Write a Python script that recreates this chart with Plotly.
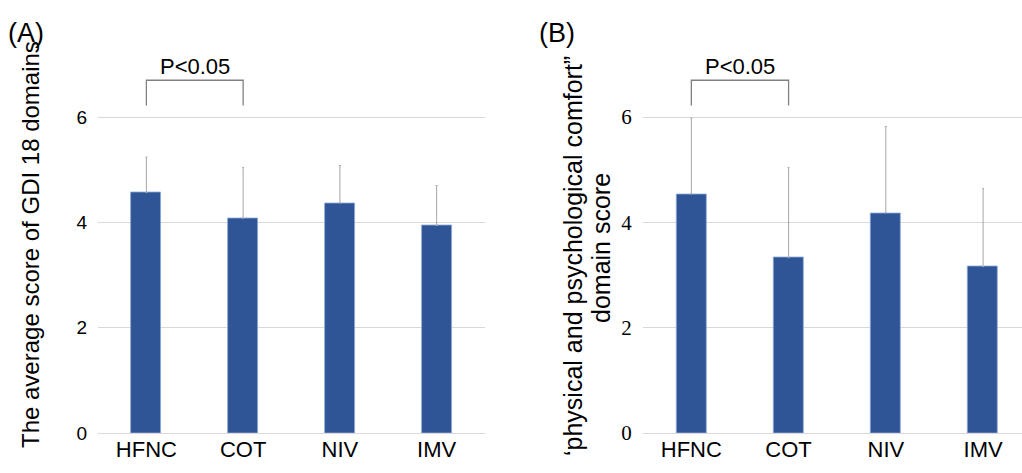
import plotly.graph_objects as go

categories = ["HFNC", "COT", "NIV", "IMV"]
gdi_mean = [4.57, 4.08, 4.37, 3.94]
gdi_sd = [0.67, 0.96, 0.71, 0.76]
comfort_mean = [4.54, 3.33, 4.18, 3.16]
comfort_sd = [1.44, 1.71, 1.64, 1.48]
y_ticks = [0, 2, 4, 6]

BAR = "#2F5597"
BAR_EDGE = "#8EA9DB"
ERR = "#A6A6A6"
GRID = "#D9D9D9"
BRACKET = "#808080"

W, H = 1022, 461  # effective rendered page area


def fx(px):
    return px / W


def fy(py):
    return 1 - py / H


fig = go.Figure()
for means, sds, xa, ya in [(gdi_mean, gdi_sd, "x", "y"), (comfort_mean, comfort_sd, "x2", "y2")]:
    fig.add_trace(go.Bar(
        x=categories, y=means, xaxis=xa, yaxis=ya, width=0.31,
        marker=dict(color=BAR, line=dict(color=BAR_EDGE, width=0.8)),
        error_y=dict(type="data", array=sds, arrayminus=[0] * len(sds), symmetric=False,
                     color=ERR, thickness=1, width=1),
        showlegend=False, hoverinfo="skip",
    ))

ydom = [fy(433), fy(43.4)]
yr = [0, 7.4]
common_y = dict(range=yr, domain=ydom, tickvals=y_ticks, showgrid=True, gridcolor=GRID,
                gridwidth=1, zeroline=True, zerolinecolor=GRID, zerolinewidth=1,
                showline=False, ticks="", ticklabelstandoff=10)
common_x = dict(showgrid=False, showline=False, ticks="", zeroline=False,
                tickfont=dict(family="Liberation Sans", size=22, color="#000"),
                ticklabelstandoff=1)

fig.update_layout(
    autosize=False,
    width=1022, height=473, margin=dict(l=0, r=0, t=0, b=0),
    paper_bgcolor="white", plot_bgcolor="white", bargap=0,
    xaxis=dict(domain=[fx(98), fx(485)], range=[-0.5, 3.5], anchor="y", **common_x),
    yaxis=dict(anchor="x", tickfont=dict(family="Liberation Sans", size=19, color="#000"), **common_y),
    xaxis2=dict(domain=[fx(642.7), 1.0], range=[-0.5, 3.40], anchor="y2", **common_x),
    yaxis2=dict(anchor="x2", tickfont=dict(family="Liberation Serif", size=21, color="#000"), **common_y),
)

# significance brackets between HFNC and COT
br_lo, br_hi, p_y = 6.22, 6.70, 6.97
for xr, yref in [("x", "y"), ("x2", "y2")]:
    fig.add_shape(type="path", xref=xr, yref=yref,
                  path=f"M 0,{br_lo} L 0,{br_hi} L 1,{br_hi} L 1,{br_lo}",
                  line=dict(color=BRACKET, width=1.3))
    fig.add_annotation(xref=xr, yref=yref, x=0.5, y=p_y, text="P<0.05", showarrow=False,
                       yanchor="middle", font=dict(family="Liberation Sans", size=22, color="#000"))

# axis titles
fig.add_annotation(xref="paper", yref="paper", x=fx(30), y=fy(245),
                   text="The average score of GDI 18 domains", textangle=-90, showarrow=False,
                   xanchor="center", yanchor="middle",
                   font=dict(family="Liberation Sans", size=24, color="#000"))
fig.add_annotation(xref="paper", yref="paper", x=fx(573), y=fy(256),
                   text="\u2018physical and psychological comfort\u201d", textangle=-90, showarrow=False,
                   xanchor="center", yanchor="middle",
                   font=dict(family="Liberation Sans", size=25, color="#000"))
fig.add_annotation(xref="paper", yref="paper", x=fx(601), y=fy(248),
                   text="domain score", textangle=-90, showarrow=False,
                   xanchor="center", yanchor="middle",
                   font=dict(family="Liberation Sans", size=25, color="#000"))

# panel labels
for lab, px in [("(A)", 26), ("(B)", 557)]:
    fig.add_annotation(xref="paper", yref="paper", x=fx(px), y=fy(33), text=lab,
                       showarrow=False, xanchor="center", yanchor="middle",
                       font=dict(family="Liberation Sans", size=27, color="#000"))

fig.write_html("out.html", config={"displayModeBar": False, "responsive": False},
               post_script="document.body.style.margin='0px';document.body.style.overflow='hidden';")
